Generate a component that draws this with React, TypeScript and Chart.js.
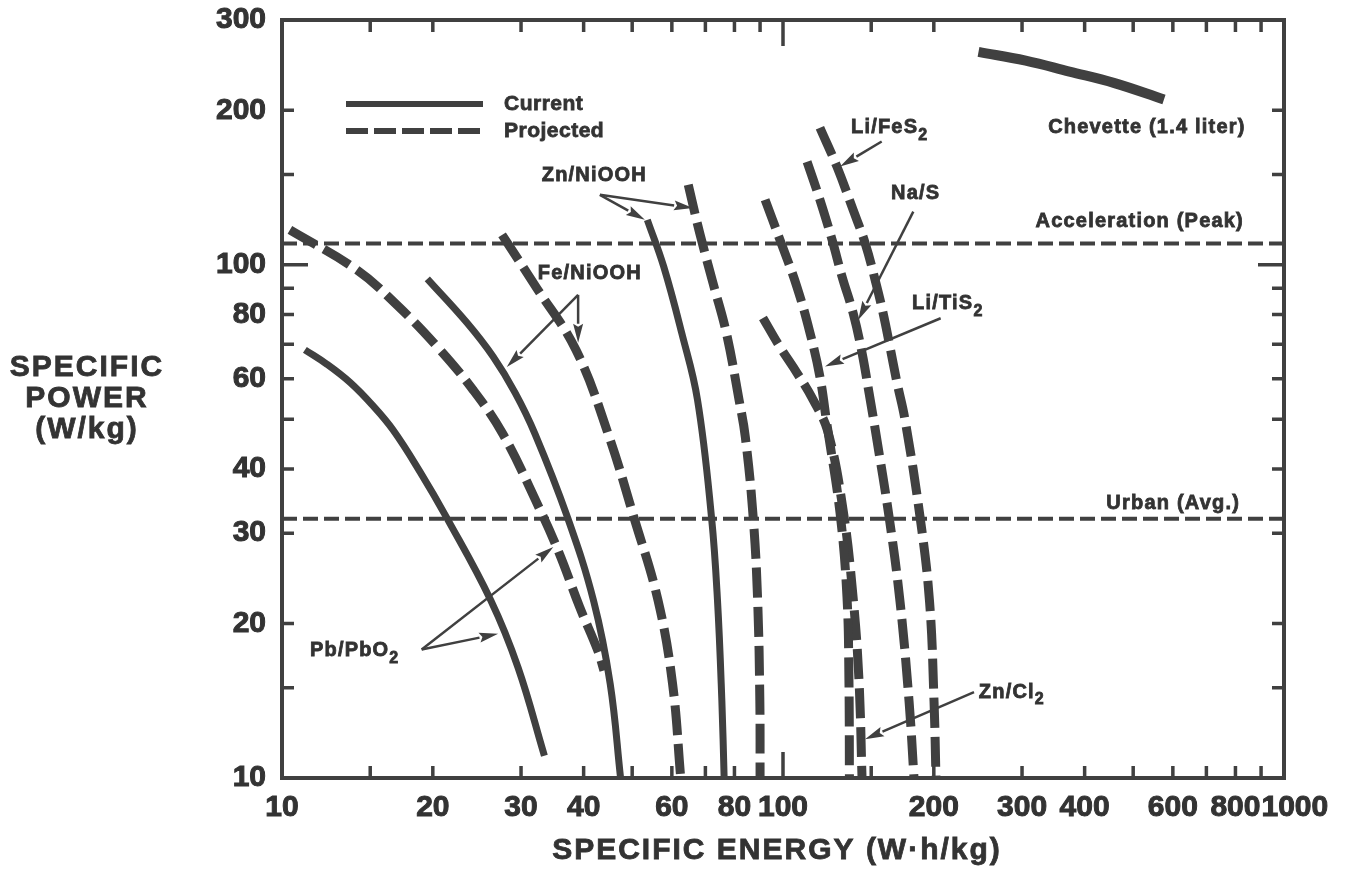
import { useEffect, useRef } from "react";
import { Chart, registerables } from "chart.js";

Chart.register(...registerables);

// ---------------- data ----------------
// Pb/PbO2
const pbCurrentX = [11.11, 12.3, 13.67, 15.12, 16.65, 18.86, 21.3, 26.1, 29.6, 33.4];
const pbCurrentY = [68.3, 64.0, 59.0, 53.4, 47.7, 39.5, 32.2, 22.2, 16.4, 11.05];
const pbProjectedX = [10.37, 14.1, 16.94, 20.4, 24.05, 27.6, 32.1, 35.6, 39.3, 42.7, 43.9];
const pbProjectedY = [117, 97.8, 83.6, 69.3, 57.1, 46.8, 34.7, 27.7, 21.5, 17.7, 16.2];
// Fe/NiOOH
const feCurrentX = [19.5, 23.4, 26.4, 29.2, 32.0, 37.1, 41.9, 45.2, 47.4];
const feCurrentY = [93.9, 77.1, 66.2, 56.3, 46.8, 32.3, 22.1, 15.25, 10];
const feProjectedX = [27.5, 32.1, 38.6, 44.75, 50.4, 56.3, 60.2, 62.5];
const feProjectedY = [114.4, 90.7, 68.3, 46.9, 32.2, 22.2, 15.25, 10];
// Zn/NiOOH
const znNiCurrentX = [53.6, 57.8, 62.8, 67.5, 72.0, 74.0, 75.5, 76.3];
const znNiCurrentY = [122.4, 99.2, 73.6, 54.6, 32.2, 22.2, 14.15, 10];
const znNiProjectedX = [64.7, 68.2, 72.5, 77.1, 81.7, 84.1, 87.2, 89.0, 89.9, 90.0];
const znNiProjectedY = [143.2, 115.3, 92.1, 73.6, 54.6, 46.2, 32.2, 22.2, 14.15, 10];
// Li/TiS2
const liTiX = [92.1, 98.6, 106.6, 113.2, 118.5, 122.4, 130, 134.2, 135.4, 135.7];
const liTiY = [133.9, 111.9, 90.6, 73.7, 60.5, 48.8, 32.8, 22.5, 15.5, 10];
// Zn/Cl2
const znClX = [91.2, 98.6, 106.6, 114.8, 122.9, 131.8, 138, 141.8, 143.8];
const znClY = [78.8, 69.2, 61.6, 54.6, 47.3, 33.3, 22.5, 15.5, 10];
// Na/S
const naSX = [111.7, 118.5, 125.3, 131.2, 138, 143.8, 148.5, 153.3, 162.8, 171.2, 178.5, 182.6];
const naSY = [158.8, 133.9, 111.9, 94.8, 80.6, 67.4, 56.3, 46.8, 32.3, 22.1, 14.1, 10];
// Li/FeS2
const liFeX = [118.5, 128.2, 138, 145.8, 152.7, 158.4, 163.5, 168.9, 175.2, 187.7, 196.1, 200.2, 202];
const liFeY = [185, 155.2, 128, 110.4, 93.5, 80.6, 69.2, 58.9, 49.9, 32.3, 22.1, 14.1, 10];
// Chevette (1.4 liter)
const chevetteX = [245.6, 305, 373, 459, 576];
const chevetteY = [260, 250, 238, 226, 210];
// reference levels
const accelerationLevel = 110;
const urbanLevel = 32;
const referenceSpanX = [10, 1000];

// axes
const xRange = [10, 1000];
const yRange = [10, 300];
const xTickLabels = [10, 20, 30, 40, 60, 80, 100, 200, 300, 400, 600, 800, 1000];
const yTickLabels = [10, 20, 30, 40, 60, 80, 100, 200, 300];
const xTickMarks = [15, 20, 30, 40, 50, 60, 70, 80, 90, 100, 150, 200, 300, 400, 500, 600, 700, 800, 900];
const yTickMarks = [15, 20, 30, 40, 50, 60, 70, 80, 90, 100, 150, 200];
const majorTickValue = 100;
const xAxisTitle = "SPECIFIC ENERGY (W·h/kg)";
const yAxisTitle = ["SPECIFIC", "POWER", "(W/kg)"];
const legendLabels = ["Current", "Projected"];

// annotations ("_2" = subscript 2)
const noteTexts = ["Zn/NiOOH", "Fe/NiOOH", "Pb/PbO_2", "Li/FeS_2", "Na/S", "Li/TiS_2", "Zn/Cl_2", "Chevette (1.4 liter)", "Acceleration (Peak)", "Urban (Avg.)"];
const noteX = [33.0, 32.4, 11.37, 136.7, 164.3, 181, 246, 838, 832, 817];
const noteY = [149, 96.0, 17.7, 184.9, 137.5, 83.9, 14.7, 184.9, 121.3, 34.2];
const noteAlign = ["left", "left", "left", "left", "left", "left", "left", "right", "right", "right"];

const arrowFromX = [43.1, 43.1, 39.0, 39.0, 19.0, 19.0, 157.4, 182, 206.4, 240.6];
const arrowFromY = [136.9, 136.9, 87.4, 87.4, 17.8, 17.8, 173.9, 127, 78.7, 14.7];
const arrowToX = [53.0, 66.1, 28.1, 39.0, 34.8, 27.0, 130, 141.3, 121.3, 145.8];
const arrowToY = [122.4, 129, 63.2, 70.5, 28.2, 19.1, 155.5, 78.1, 63.4, 11.9];

// ---------------- styles ----------------
const FONT = '"Liberation Sans", Arial, Helvetica, sans-serif';
const INK = "#404040";
const TEXT = "#333333";

const pts = (xs: number[], ys: number[]) => xs.map((x, i) => ({ x, y: ys[i] }));

const solid = (data: any[], w = 7) => ({
  data,
  borderColor: INK,
  backgroundColor: INK,
  borderWidth: w,
  tension: 0.4,
  pointRadius: 0,
  pointHoverRadius: 0,
  showLine: true,
  fill: false,
  borderJoinStyle: "round",
  borderCapStyle: "butt",
});
const dashed = (data: any[]) => ({ ...solid(data, 9), borderDash: [30, 9] });
const level = (y: number) => ({
  ...solid(referenceSpanX.map((x) => ({ x, y })), 4),
  tension: 0,
  borderDash: [15, 6],
});

function segments(text: string) {
  const out: { t: string; sub: boolean }[] = [];
  let buf = "";
  for (let i = 0; i < text.length; i++) {
    if (text[i] === "_" && i + 1 < text.length) {
      if (buf) out.push({ t: buf, sub: false });
      buf = "";
      out.push({ t: text[i + 1], sub: true });
      i++;
    } else buf += text[i];
  }
  if (buf) out.push({ t: buf, sub: false });
  return out;
}

function drawRichText(ctx: CanvasRenderingContext2D, text: string, x: number, y: number, align: string, size: number, spacing: number) {
  const segs = segments(text);
  const mainFont = `bold ${size}px ${FONT}`;
  const subFont = `bold ${Math.round(size * 0.78)}px ${FONT}`;
  (ctx as any).letterSpacing = `${spacing}px`;
  let total = 0;
  const widths = segs.map((s) => {
    ctx.font = s.sub ? subFont : mainFont;
    const w = ctx.measureText(s.t).width;
    total += w;
    return w;
  });
  let cx = align === "right" ? x - total : align === "center" ? x - total / 2 : x;
  ctx.textAlign = "left";
  ctx.textBaseline = "middle";
  ctx.lineWidth = 0.8;
  ctx.strokeStyle = TEXT;
  segs.forEach((s, i) => {
    ctx.font = s.sub ? subFont : mainFont;
    const yy = s.sub ? y + size * 0.38 : y;
    ctx.fillText(s.t, cx, yy);
    ctx.strokeText(s.t, cx, yy);
    cx += widths[i];
  });
  (ctx as any).letterSpacing = "0px";
}

function drawArrow(ctx: CanvasRenderingContext2D, x1: number, y1: number, x2: number, y2: number) {
  const ang = Math.atan2(y2 - y1, x2 - x1);
  const head = 19;
  const half = 5;
  const bx = x2 - head * Math.cos(ang);
  const by = y2 - head * Math.sin(ang);
  ctx.lineWidth = 2.5;
  ctx.beginPath();
  ctx.moveTo(x1, y1);
  ctx.lineTo(bx, by);
  ctx.stroke();
  ctx.beginPath();
  ctx.moveTo(x2, y2);
  ctx.lineTo(bx + half * Math.sin(ang), by - half * Math.cos(ang));
  ctx.lineTo(bx + 3 * Math.cos(ang), by + 3 * Math.sin(ang));
  ctx.lineTo(bx - half * Math.sin(ang), by + half * Math.cos(ang));
  ctx.closePath();
  ctx.fill();
}

const decor = {
  id: "decor",
  afterDatasetsDraw(chart: any) {
    const { ctx, chartArea: a, scales } = chart;
    const xs = scales.x;
    const ys = scales.y;
    ctx.save();
    ctx.strokeStyle = INK;
    ctx.fillStyle = INK;
    ctx.setLineDash([]);

    // frame
    ctx.lineWidth = 4;
    ctx.lineJoin = "miter";
    ctx.strokeRect(a.left, a.top, a.right - a.left, a.bottom - a.top);

    // inward tick marks
    ctx.lineWidth = 3.5;
    ctx.beginPath();
    for (const v of xTickMarks) {
      const px = xs.getPixelForValue(v);
      const len = v === majorTickValue ? 26 : 12;
      ctx.moveTo(px, a.bottom);
      ctx.lineTo(px, a.bottom - len);
      ctx.moveTo(px, a.top);
      ctx.lineTo(px, a.top + len);
    }
    for (const v of yTickMarks) {
      const py = ys.getPixelForValue(v);
      const len = v === majorTickValue ? 26 : 12;
      ctx.moveTo(a.left, py);
      ctx.lineTo(a.left + len, py);
      ctx.moveTo(a.right, py);
      ctx.lineTo(a.right - len, py);
    }
    ctx.stroke();

    // arrows
    arrowFromX.forEach((_, i) => {
      drawArrow(
        ctx,
        xs.getPixelForValue(arrowFromX[i]),
        ys.getPixelForValue(arrowFromY[i]),
        xs.getPixelForValue(arrowToX[i]),
        ys.getPixelForValue(arrowToY[i])
      );
    });

    // annotation labels
    ctx.fillStyle = TEXT;
    noteTexts.forEach((t, i) => {
      drawRichText(ctx, t, xs.getPixelForValue(noteX[i]), ys.getPixelForValue(noteY[i]), noteAlign[i], 20, 1.2);
    });

    // legend
    const lx0 = a.left + 64;
    const lx1 = a.left + 201;
    const ly1 = a.top + 84;
    const ly2 = a.top + 111;
    ctx.strokeStyle = INK;
    ctx.lineWidth = 6;
    ctx.beginPath();
    ctx.moveTo(lx0, ly1);
    ctx.lineTo(lx1, ly1);
    ctx.stroke();
    ctx.setLineDash([22, 6]);
    ctx.beginPath();
    ctx.moveTo(lx0, ly2);
    ctx.lineTo(lx1, ly2);
    ctx.stroke();
    ctx.setLineDash([]);
    ctx.fillStyle = TEXT;
    drawRichText(ctx, legendLabels[0], a.left + 222, ly1, "left", 21, 0.5);
    drawRichText(ctx, legendLabels[1], a.left + 222, ly2, "left", 21, 0.5);

    // x tick labels (pushed right where they would collide)
    ctx.font = `bold 30px ${FONT}`;
    ctx.textAlign = "left";
    ctx.textBaseline = "middle";
    ctx.lineWidth = 1;
    ctx.strokeStyle = TEXT;
    let prevRight = -Infinity;
    for (const v of xTickLabels) {
      const t = String(v);
      const w = ctx.measureText(t).width;
      const cx = xs.getPixelForValue(v);
      const left = Math.max(cx - w / 2, prevRight + 1);
      ctx.fillText(t, left, a.bottom + 30);
      ctx.strokeText(t, left, a.bottom + 30);
      prevRight = left + w;
    }

    // axis titles
    drawRichText(ctx, xAxisTitle, (a.left + a.right) / 2 - 6, a.bottom + 73, "center", 30, 2);
    const midY = (a.top + a.bottom) / 2;
    yAxisTitle.forEach((t, i) => {
      drawRichText(ctx, t, a.left - 195, midY - 31 + i * 31, "center", 30, 2);
    });
    ctx.restore();
  },
};

export default function App() {
  const ref = useRef<HTMLCanvasElement>(null);
  useEffect(() => {
    document.body.style.margin = "0";
    document.body.style.overflow = "hidden";
    const canvas = ref.current!;
    const chart = new Chart(canvas, {
      type: "scatter",
      data: {
        datasets: [
          level(accelerationLevel),
          level(urbanLevel),
          solid(pts(pbCurrentX, pbCurrentY)),
          dashed(pts(pbProjectedX, pbProjectedY)),
          solid(pts(feCurrentX, feCurrentY)),
          dashed(pts(feProjectedX, feProjectedY)),
          solid(pts(znNiCurrentX, znNiCurrentY)),
          dashed(pts(znNiProjectedX, znNiProjectedY)),
          dashed(pts(liTiX, liTiY)),
          dashed(pts(znClX, znClY)),
          dashed(pts(naSX, naSY)),
          dashed(pts(liFeX, liFeY)),
          solid(pts(chevetteX, chevetteY), 10),
        ] as any,
      },
      options: {
        responsive: false,
        animation: false,
        devicePixelRatio: 1,
        events: [],
        layout: { padding: { top: 20, right: 62, left: 0, bottom: 0 } },
        plugins: { legend: { display: false }, tooltip: { enabled: false }, title: { display: false } },
        scales: {
          x: {
            type: "logarithmic",
            min: xRange[0],
            max: xRange[1],
            grid: { display: false, drawTicks: false },
            border: { display: false },
            ticks: { display: false },
            afterFit: (s: any) => {
              s.height = 96;
            },
          },
          y: {
            type: "logarithmic",
            min: yRange[0],
            max: yRange[1],
            grid: { display: false, drawTicks: true, tickLength: 16 },
            border: { display: false },
            afterBuildTicks: (s: any) => {
              s.ticks = yTickLabels.map((v) => ({ value: v }));
            },
            ticks: {
              autoSkip: false,
              padding: 0,
              color: TEXT,
              textStrokeColor: TEXT,
              textStrokeWidth: 1,
              font: { family: FONT, size: 30, weight: "bold" },
              callback: (v: any) => String(v),
            },
            afterFit: (s: any) => {
              s.width = 282;
            },
          },
        },
      } as any,
      plugins: [decor],
    });
    return () => chart.destroy();
  }, []);
  return (
    <div style={{ width: 1346, height: 874, background: "#fff" }}>
      <canvas ref={ref} width={1346} height={874} style={{ display: "block" }} />
    </div>
  );
}
